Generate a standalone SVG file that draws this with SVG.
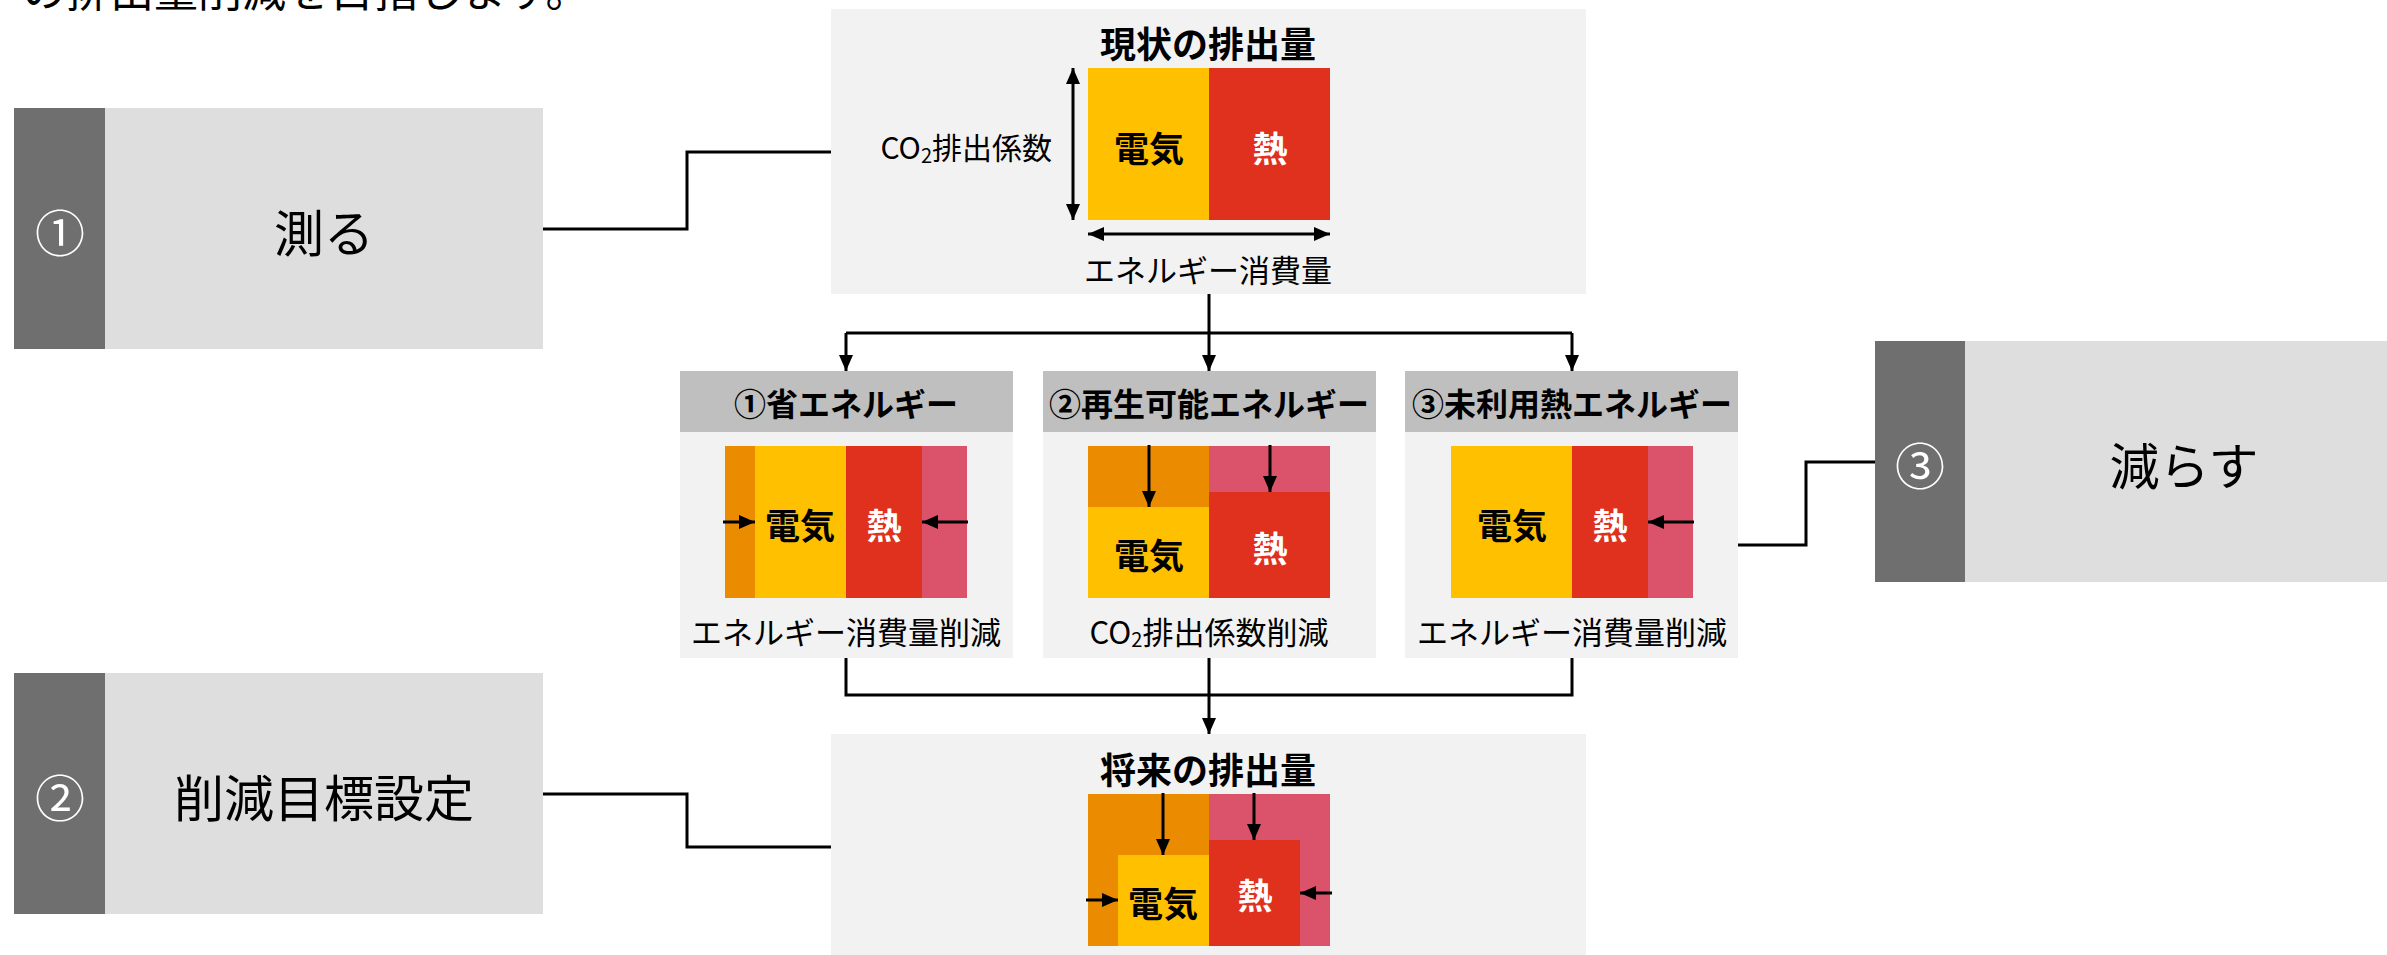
<svg xmlns="http://www.w3.org/2000/svg" width="2387" height="955" viewBox="0 0 2387 955">
<defs>
<style>
text{font-family:"Noto Sans CJK JP","Liberation Sans",sans-serif;fill:#000;}
.c{text-anchor:middle;dominant-baseline:central;}
.big{font-size:50px;}
.num{font-size:50px;fill:#fff;}
.ttl{font-size:36px;font-weight:bold;}
.hdr{font-size:32px;font-weight:bold;}
.lbl{font-size:35px;font-weight:bold;}
.wh{fill:#fff;}
.cap{font-size:31px;}
.dark{fill:#6F6F6F;}
.light{fill:#DEDEDE;}
.panel{fill:#F2F2F2;}
.head{fill:#BFBFBF;}
.y{fill:#FFC000;}
.r{fill:#E0301E;}
.o{fill:#EB8C00;}
.p{fill:#DB536A;}
.ln{fill:none;stroke:#000;stroke-width:3;}
.ar{fill:none;stroke:#000;stroke-width:3;marker-end:url(#ah);}
.dar{fill:none;stroke:#000;stroke-width:3;marker-end:url(#ah);marker-start:url(#ah);}
</style>
<marker id="ah" markerUnits="userSpaceOnUse" markerWidth="17" markerHeight="15" refX="16" refY="7" orient="auto-start-reverse" viewBox="0 0 17 15">
<path d="M0,0 L16,7 L0,14 Z" fill="#000"/>
</marker>
</defs>
<rect width="2387" height="955" fill="#fff"/>
<text x="22" y="7" style="font-size:44px">の排出量削減を目指します。</text>

<g id="connectors">
<path class="ln" d="M543,229 H687 V152 H831"/>
<path class="ln" d="M543,794 H687 V847 H831"/>
<path class="ln" d="M1738,545 H1806 V462 H1875"/>
<path class="ln" d="M1209,294 V333 M846,333 H1572"/>
<path class="ar" d="M846,333 V371"/>
<path class="ar" d="M1209,333 V371"/>
<path class="ar" d="M1572,333 V371"/>
<path class="ln" d="M846,658 V695 H1572 V658 M1209,658 V695"/>
<path class="ar" d="M1209,695 V734"/>
</g>

<g id="step1">
<rect class="dark" x="14" y="108" width="91" height="241"/>
<rect class="light" x="105" y="108" width="438" height="241"/>
<text class="c num" x="60" y="230">①</text>
<text class="c big" x="324" y="230">測る</text>
</g>

<g id="step2">
<rect class="dark" x="14" y="673" width="91" height="241"/>
<rect class="light" x="105" y="673" width="438" height="241"/>
<text class="c num" x="60" y="795">②</text>
<text class="c big" x="324" y="795">削減目標設定</text>
</g>

<g id="step3">
<rect class="dark" x="1875" y="341" width="90" height="241"/>
<rect class="light" x="1965" y="341" width="438" height="241"/>
<text class="c num" x="1920" y="463">③</text>
<text class="c big" x="2184" y="463">減らす</text>
</g>

<g id="current">
<rect class="panel" x="831" y="9" width="755" height="285"/>
<text class="c ttl" x="1208" y="42">現状の排出量</text>
<rect class="y" x="1088" y="68" width="121" height="152"/>
<rect class="r" x="1209" y="68" width="121" height="152"/>
<text class="c lbl" x="1149" y="146">電気</text>
<text class="c lbl wh" x="1270" y="146">熱</text>
<path class="dar" d="M1073,68 V220"/>
<path class="dar" d="M1088,234 H1330"/>
<text x="1052" y="146" style="font-size:30px;text-anchor:end;dominant-baseline:central">CO<tspan style="font-size:20px" dy="8">2</tspan><tspan dy="-8">排出係数</tspan></text>
<text class="c cap" x="1208" y="268">エネルギー消費量</text>
</g>

<g id="saving">
<rect class="head" x="680" y="371" width="333" height="61"/>
<rect class="panel" x="680" y="432" width="333" height="226"/>
<text class="c hdr" x="846" y="402">①省エネルギー</text>
<rect class="o" x="725" y="446" width="30" height="152"/>
<rect class="y" x="755" y="446" width="91" height="152"/>
<rect class="r" x="846" y="446" width="76" height="152"/>
<rect class="p" x="922" y="446" width="45" height="152"/>
<text class="c lbl" x="800" y="523">電気</text>
<text class="c lbl wh" x="884" y="523">熱</text>
<path class="ar" d="M723,522 H755"/>
<path class="ar" d="M968,522 H922"/>
<text class="c cap" x="846" y="630">エネルギー消費量削減</text>
</g>

<g id="renewable">
<rect class="head" x="1043" y="371" width="333" height="61"/>
<rect class="panel" x="1043" y="432" width="333" height="226"/>
<text class="c hdr" x="1209" y="402">②再生可能エネルギー</text>
<rect class="o" x="1088" y="446" width="121" height="61"/>
<rect class="y" x="1088" y="507" width="121" height="91"/>
<rect class="p" x="1209" y="446" width="121" height="46"/>
<rect class="r" x="1209" y="492" width="121" height="106"/>
<path class="ar" d="M1149,445 V507"/>
<path class="ar" d="M1270,445 V492"/>
<text class="c lbl" x="1149" y="553">電気</text>
<text class="c lbl wh" x="1270" y="546">熱</text>
<text x="1209" y="630" style="font-size:31px;text-anchor:middle;dominant-baseline:central">CO<tspan style="font-size:20px" dy="8">2</tspan><tspan dy="-8">排出係数削減</tspan></text>
</g>

<g id="unused-heat">
<rect class="head" x="1405" y="371" width="333" height="61"/>
<rect class="panel" x="1405" y="432" width="333" height="226"/>
<text class="c hdr" x="1572" y="402">③未利用熱エネルギー</text>
<rect class="y" x="1451" y="446" width="121" height="152"/>
<rect class="r" x="1572" y="446" width="76" height="152"/>
<rect class="p" x="1648" y="446" width="45" height="152"/>
<text class="c lbl" x="1512" y="523">電気</text>
<text class="c lbl wh" x="1610" y="523">熱</text>
<path class="ar" d="M1694,522 H1648"/>
<text class="c cap" x="1572" y="630">エネルギー消費量削減</text>
</g>

<g id="future">
<rect class="panel" x="831" y="734" width="755" height="221"/>
<text class="c ttl" x="1208" y="768">将来の排出量</text>
<rect class="o" x="1088" y="794" width="121" height="152"/>
<rect class="p" x="1209" y="794" width="121" height="152"/>
<rect class="y" x="1118" y="855" width="91" height="91"/>
<rect class="r" x="1209" y="840" width="91" height="106"/>
<path class="ar" d="M1163,793 V855"/>
<path class="ar" d="M1254,793 V840"/>
<path class="ar" d="M1086,900 H1118"/>
<path class="ar" d="M1332,893 H1300"/>
<text class="c lbl" x="1163" y="901">電気</text>
<text class="c lbl wh" x="1255" y="893">熱</text>
</g>
</svg>
